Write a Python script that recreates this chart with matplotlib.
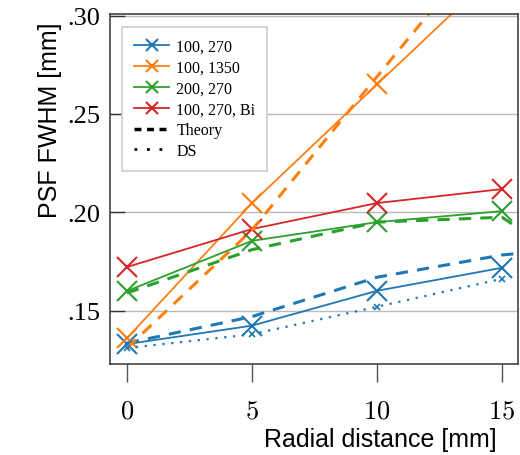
import matplotlib
matplotlib.use("Agg")
import matplotlib.pyplot as plt
import numpy as np

plt.rcParams['mathtext.fontset'] = 'cm'

# measured points (radial distance in mm)
dist = [0, 5, 10, 15]
fwhm_100_270 = [0.133, 0.1424, 0.1601, 0.1718]
fwhm_100_1350 = [0.136, 0.2047, 0.265, 0.325]
fwhm_200_270 = [0.160, 0.1855, 0.195, 0.2006]
fwhm_100_270_bi = [0.1722, 0.1915, 0.2047, 0.2118]

# theory curves
dist_theory = [0, 5, 10, 15, 16]
theory_100_270 = [0.1335, 0.147, 0.167, 0.1783, 0.1795]
theory_100_1350 = [0.131, 0.191, 0.269, 0.346, 0.362]
theory_200_270 = [0.159, 0.181, 0.195, 0.1975, 0.189]

# DS simulation
ds_100_270 = [0.131, 0.138, 0.152, 0.1662]

xtick_vals = [0, 5, 10, 15]
xtick_labels = [r'$0$', r'$5$', r'$10$', r'$15$']
ytick_vals = [0.15, 0.20, 0.25, 0.30]
ytick_labels = ['.15', '.20', '.25', '.30']

c_blue, c_orange, c_green, c_red = '#1f77b4', '#ff7f0e', '#2ca02c', '#d62728'

fig = plt.figure(figsize=(5.2, 4.56), dpi=100)
ax = fig.add_axes([110/520, 91/456, 408/520, 350/456])

ms = 14
ax.plot(dist, fwhm_100_270, color=c_blue, marker='x', ms=ms, mew=1.5, lw=1.3, label='100, 270')
ax.plot(dist, fwhm_100_1350, color=c_orange, marker='x', ms=ms, mew=1.5, lw=1.3, label='100, 1350')
ax.plot(dist, fwhm_200_270, color=c_green, marker='x', ms=ms, mew=1.5, lw=1.3, label='200, 270')
ax.plot(dist, fwhm_100_270_bi, color=c_red, marker='x', ms=ms, mew=1.5, lw=1.3, label='100, 270, Bi')

ax.plot(dist_theory, theory_100_270, color=c_blue, ls=(0, (4, 3)), lw=2.2)
ax.plot(dist_theory, theory_100_1350, color=c_orange, ls=(0, (4, 3)), lw=2.2)
ax.plot(dist_theory, theory_200_270, color=c_green, ls=(0, (4, 3)), lw=2.2)
ax.plot(dist, ds_100_270, color=c_blue, ls=(0, (1, 3)), lw=1.6, marker='x', ms=5, mew=1.2)

# legend-only handles for line styles
ax.plot([], [], color='black', ls=(0, (2, 1.6)), lw=2.5, label='Theory')
ax.plot([], [], color='black', ls=(0, (1, 3.5)), lw=2, label='DS')

ax.set_xlim(-0.68, 15.64)
ax.set_ylim(0.1229, 0.3008)
ax.set_xticks(xtick_vals)
ax.set_xticklabels(xtick_labels, fontsize=19)
ax.set_yticks(ytick_vals)
ax.set_yticklabels(ytick_labels, fontsize=19, family='Liberation Serif')

ax.tick_params(axis='x', direction='out', length=13, width=1, color='#555555', pad=11)
ax.tick_params(axis='y', direction='in', length=11, width=1, color='#333333', pad=7)
ax.grid(axis='y', color='#bbbbbb', lw=1)
for s in ax.spines.values():
    s.set_color('#333333')
    s.set_linewidth(1.1)

ax.set_xlabel('Radial distance [mm]', fontsize=18, family='Liberation Sans', x=0.662, labelpad=3)
ax.set_ylabel('PSF FWHM [mm]', fontsize=18, family='Liberation Sans', y=0.70, labelpad=4)

leg = ax.legend(loc='upper left', bbox_to_anchor=(12/408, 1 - 13/350), borderaxespad=0,
                prop={'family': 'Liberation Serif', 'size': 11.5}, fancybox=False,
                edgecolor='#cccccc', framealpha=1, handlelength=2.2, handletextpad=0.45,
                labelspacing=0.3, borderpad=0.75, markerscale=0.6)
leg.get_frame().set_linewidth(1.2)

fig.savefig('out.png', dpi=100)
